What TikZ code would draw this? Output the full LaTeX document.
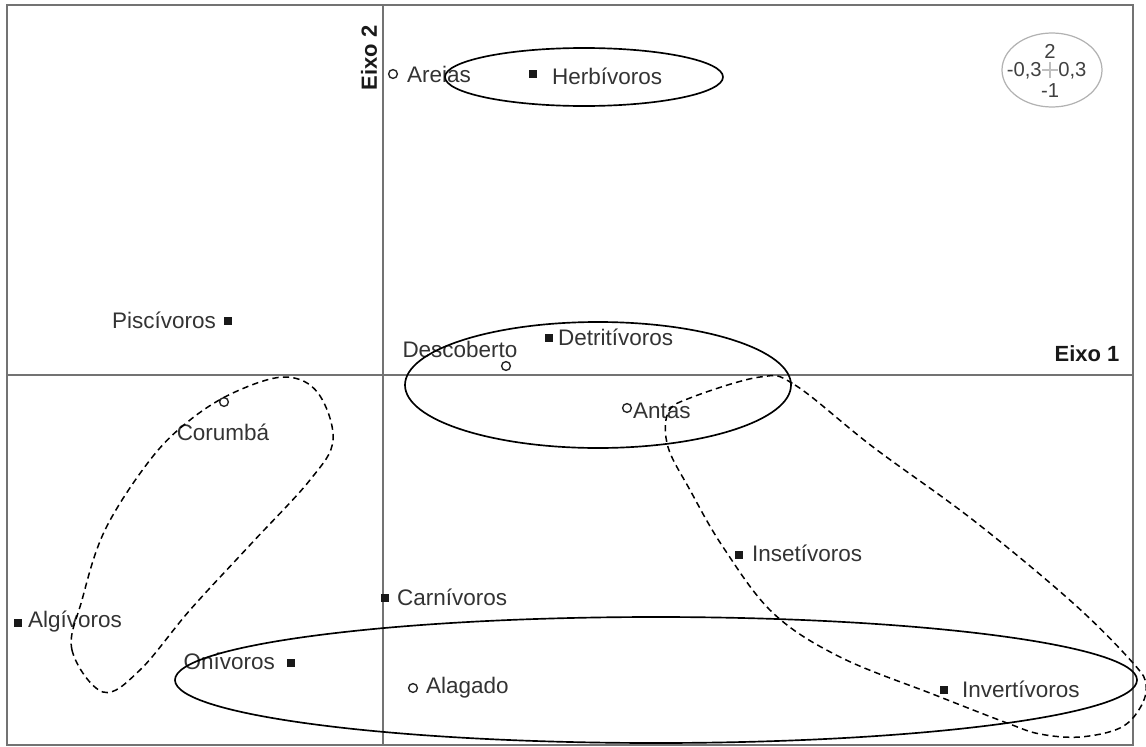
\documentclass[tikz,border=0pt]{standalone}
\usepackage{fontspec}
\setmainfont{Liberation Sans}
\usepackage{tikz}
\usetikzlibrary{calc}

\tikzset{
  lbl/.style={font=\fontsize{12.8}{15}\selectfont, text=black!80, inner sep=1pt},
  eixo/.style={font=\fontsize{12.5}{15}\selectfont\bfseries, text=black!90, inner sep=1pt},
  sqmark/.style={rectangle, fill=black!90, minimum size=4.4pt, inner sep=0pt},
  cimark/.style={circle, draw=black!85, line width=0.8pt, minimum size=5pt, inner sep=0pt},
  grupo/.style={line width=0.95pt},
  grupotr/.style={line width=0.85pt, dash pattern=on 3.6pt off 2.4pt}
}

\begin{document}
\begin{tikzpicture}[x=0.02cm, y=-0.02cm]
        \useasboundingbox (0,0) rectangle (1146,747);

        % moldura e eixos
        \draw[black!55, line width=1.3pt] (7,5) rectangle (1133,745);
        \draw[black!55, line width=1.3pt] (383,5) -- (383,745);
        \draw[black!55, line width=1.3pt] (7,375) -- (1133,375);

        \node[eixo] (e1) at (1087,354) {Eixo 1};
        \node[eixo, rotate=90] (e2) at (369,58) {Eixo 2};

        % pontos: locais (circulos) e guildas (quadrados)
        \node[cimark] (areias) at (393,74) {};
        \node[lbl, anchor=west] (areiasl) at (405,74) {Areias};
        \node[sqmark] (herb) at (533,74) {};
        \node[lbl, anchor=west] (herbl) at (550,76) {Herbívoros};
        \node[sqmark] (pisc) at (228,321) {};
        \node[lbl, anchor=east] (piscl) at (218,320) {Piscívoros};
        \node[cimark] (desc) at (506,366) {};
        \node[lbl] (descl) at (460,349) {Descoberto};
        \node[sqmark] (detr) at (549,338) {};
        \node[lbl, anchor=west] (detrl) at (556,337) {Detritívoros};
        \node[cimark] (antas) at (627,408) {};
        \node[lbl, anchor=west] (antasl) at (631,411) {Antas};
        \node[cimark] (corumba) at (224,402) {};
        \node[lbl] (corumbal) at (223,432) {Corumbá};
        \node[sqmark] (algi) at (18,623) {};
        \node[lbl, anchor=west] (algil) at (26,622) {Algívoros};
        \node[sqmark] (carn) at (385,598) {};
        \node[lbl, anchor=west] (carnl) at (395,597) {Carnívoros};
        \node[sqmark] (oni) at (291,663) {};
        \node[lbl, anchor=east] (onil) at (277,661) {Onívoros};
        \node[cimark] (alag) at (413,688) {};
        \node[lbl, anchor=west] (alagl) at (424,688) {Alagado};
        \node[sqmark] (inse) at (739,555) {};
        \node[lbl, anchor=west] (insel) at (750,553) {Insetívoros};
        \node[sqmark] (inve) at (944,690) {};
        \node[lbl, anchor=west] (invel) at (960,689) {Invertívoros};

        % grupos
        \draw[grupo] (584,77) ellipse [x radius=139, y radius=29];
        \draw[grupo] (598,385) ellipse [x radius=193, y radius=63];
        \draw[grupo] (656,680) ellipse [x radius=481, y radius=63];

        \draw[grupotr] plot[smooth cycle, tension=0.6] coordinates {
          (103,692) (72,650) (82,600) (105,530) (150,460) (190,420) (235,392)
          (285,377) (318,393) (333,440) (310,480) (250,545) (190,610) (140,670)};
        \draw[grupotr] plot[smooth cycle, tension=0.6] coordinates {
          (760,377) (795,385) (873,447) (973,520) (1073,603) (1133,663)
          (1146,685) (1140,708) (1120,728) (1080,737) (1040,734) (1007,723)
          (935,695) (840,657) (773,613) (723,547) (690,490) (668,447)
          (668,413) (690,398)};

        % escala
        \draw[black!30, line width=0.7pt] (1052,70) ellipse [x radius=50, y radius=37];
        \draw[black!25, line width=0.7pt] (1042,70) -- (1058,70);
        \draw[black!25, line width=0.7pt] (1050,62) -- (1050,78);
        \node[font=\fontsize{11.5}{12}\selectfont, text=black!75, inner sep=0pt] (esc2) at (1050,51) {2};
        \node[font=\fontsize{11.5}{12}\selectfont, text=black!75, inner sep=0pt, anchor=east] (escl) at (1042,71) {-0,3};
        \node[font=\fontsize{11.5}{12}\selectfont, text=black!75, inner sep=0pt, anchor=west] (escr) at (1058,71) {0,3};
        \node[font=\fontsize{11.5}{12}\selectfont, text=black!75, inner sep=0pt] (escb) at (1050,91) {-1};
    \end{tikzpicture}
\end{document}
